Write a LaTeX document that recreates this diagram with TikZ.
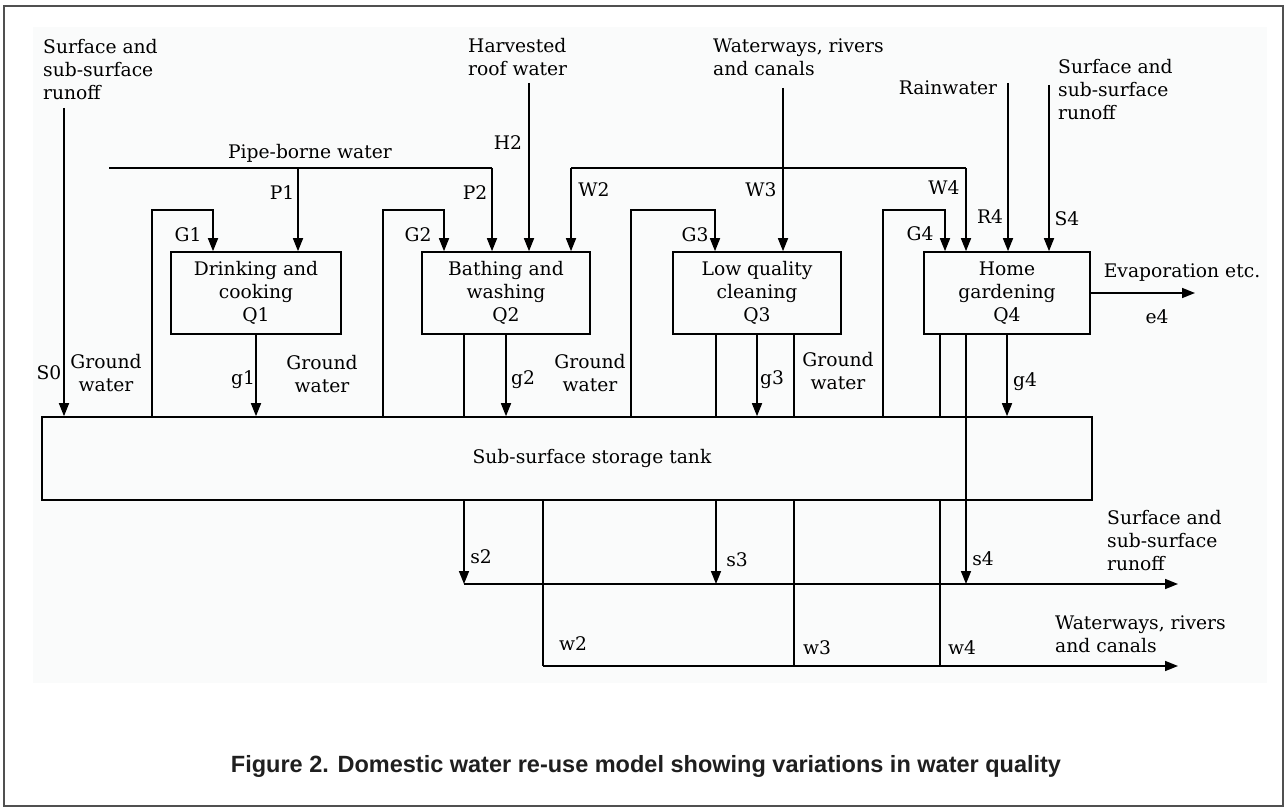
\documentclass[tikz,border=0pt]{standalone}
\usepackage{fontspec}
\setmainfont{DejaVu Serif}
\newfontfamily\capfont{Liberation Sans}
\usetikzlibrary{arrows.meta}
\newcommand{\dlabfont}{\fontsize{18.7}{23}\selectfont}
\definecolor{bgpanel}{RGB}{250,251,251}
\definecolor{framegray}{RGB}{80,80,80}
\begin{document}
\begin{tikzpicture}[x=1pt,y=-1pt,
  ln/.style={line width=1.6pt},
  arr/.style={line width=1.6pt,-{Triangle[width=10pt,length=13pt]}},
  box/.style={draw,line width=1.6pt,inner sep=0pt,align=center,font=\dlabfont},
  lab/.style={inner sep=0pt,font=\dlabfont},
]
\useasboundingbox (0,0) rectangle (1287,810);
\fill[white] (0,0) rectangle (1287,810);
\fill[bgpanel] (33,27) rectangle (1267,683);
\draw[framegray,line width=1.5pt] (4,6) rectangle (1283,806);

% boxes
\node[box,minimum width=170pt,minimum height=82pt] (drink) at (256,293) {Drinking and\\cooking\\Q1};
\node[box,minimum width=168pt,minimum height=82pt] (bath) at (506,293) {Bathing and\\washing\\Q2};
\node[box,minimum width=168pt,minimum height=82pt] (lowq) at (757,293) {Low quality\\cleaning\\Q3};
\node[box,minimum width=166pt,minimum height=82pt] (home) at (1007,293) {Home\\gardening\\Q4};
\node[draw,line width=1.6pt,minimum width=1050pt,minimum height=83pt,inner sep=0pt] (tank) at (567,458.5) {};
\node[lab] (tanktxt) at (592,458) {Sub-surface storage tank};

% top labels
\node[lab,anchor=west,align=left] (runoffTL) at (43,70) {Surface and\\sub-surface\\runoff};
\node[lab] (pipetxt) at (310,153) {Pipe-borne water};
\node[lab,anchor=west,align=left] (harv) at (468,57) {Harvested\\roof water};
\node[lab,anchor=west,align=left] (wwtop) at (713,57) {Waterways, rivers\\and canals};
\node[lab] (rain) at (948,88) {Rainwater};
\node[lab,anchor=west,align=left] (runoffTR) at (1058,90) {Surface and\\sub-surface\\runoff};

% small labels
\node[lab] at (282,193) {P1};
\node[lab] at (475,193) {P2};
\node[lab] at (508,143) {H2};
\node[lab] at (594,190) {W2};
\node[lab] at (761,190) {W3};
\node[lab] at (944,188) {W4};
\node[lab] at (188,235) {G1};
\node[lab] at (418,235) {G2};
\node[lab] at (695,235) {G3};
\node[lab] at (920,234) {G4};
\node[lab] at (990,217) {R4};
\node[lab] at (1067,219) {S4};
\node[lab] at (49,373) {S0};
\node[lab,align=center] at (106,373) {Ground\\water};
\node[lab,align=center] at (322,374) {Ground\\water};
\node[lab,align=center] at (590,373) {Ground\\water};
\node[lab,align=center] at (838,371) {Ground\\water};
\node[lab] at (243,380) {g1};
\node[lab] at (523,380) {g2};
\node[lab] at (772,380) {g3};
\node[lab] at (1025,382) {g4};
\node[lab] at (1182,273) {Evaporation etc.};
\node[lab] at (1157,317) {e4};
\node[lab] at (481,557) {s2};
\node[lab] at (737,560) {s3};
\node[lab] at (983,559) {s4};
\node[lab] at (573,644) {w2};
\node[lab] at (817,648) {w3};
\node[lab] at (962,648) {w4};
\node[lab,anchor=west,align=left] (runoffBR) at (1107,541) {Surface and\\sub-surface\\runoff};
\node[lab,anchor=west,align=left] (wwBR) at (1055,634) {Waterways, rivers\\and canals};

% coordinates
\coordinate (pipeL) at (109,168);
\coordinate (pipeR) at (492,168);
\coordinate (p1) at (298,168);
\coordinate (h2) at (529,83);
\coordinate (w3top) at (783,88);
\coordinate (wL) at (571,168);
\coordinate (wR) at (966,168);
\coordinate (r4top) at (1008,83);
\coordinate (s4top) at (1049,85);
\coordinate (s0top) at (64,108);
\coordinate (g1a) at (152,210); \coordinate (g1b) at (213,210);
\coordinate (g2a) at (383,210); \coordinate (g2b) at (444,210);
\coordinate (g3a) at (631,210); \coordinate (g3b) at (715,210);
\coordinate (g4a) at (883,210); \coordinate (g4b) at (945,210);
\coordinate (s2x) at (464,584);
\coordinate (s3x) at (716,584);
\coordinate (s4x) at (966,584);
\coordinate (sR) at (1178,584);
\coordinate (w2x) at (543,666);
\coordinate (w3x) at (794,666);
\coordinate (w4x) at (940,666);
\coordinate (wwR) at (1178,666);
\coordinate (evap) at (1195,293);

% inflows
\draw[ln] (pipeL) -- (pipeR);
\draw[arr] (pipeR) -- (pipeR |- bath.north);
\draw[arr] (p1) -- (p1 |- drink.north);
\draw[arr] (h2) -- (h2 |- bath.north);
\draw[ln] (wL) -- (wR);
\draw[arr] (wL) -- (wL |- bath.north);
\draw[arr] (wR) -- (wR |- home.north);
\draw[arr] (w3top) -- (w3top |- lowq.north);
\draw[arr] (r4top) -- (r4top |- home.north);
\draw[arr] (s4top) -- (s4top |- home.north);
\draw[arr] (s0top) -- (s0top |- tank.north);
\draw[arr] (g1a |- tank.north) -- (g1a) -- (g1b) -- (g1b |- drink.north);
\draw[arr] (g2a |- tank.north) -- (g2a) -- (g2b) -- (g2b |- bath.north);
\draw[arr] (g3a |- tank.north) -- (g3a) -- (g3b) -- (g3b |- lowq.north);
\draw[arr] (g4a |- tank.north) -- (g4a) -- (g4b) -- (g4b |- home.north);

% outflows to tank
\draw[arr] (drink.south) -- (drink.south |- tank.north);
\draw[arr] (bath.south) -- (bath.south |- tank.north);
\draw[arr] (lowq.south) -- (lowq.south |- tank.north);
\draw[arr] (home.south) -- (home.south |- tank.north);
\draw[arr] (home.east) -- (evap);

% lines through / below tank
\draw[ln] (s2x |- bath.south) -- (s2x |- tank.north);
\draw[arr] (s2x |- tank.south) -- (s2x);
\draw[ln] (s3x |- lowq.south) -- (s3x |- tank.north);
\draw[arr] (s3x |- tank.south) -- (s3x);
\draw[arr] (s4x |- home.south) -- (s4x);
\draw[arr] (s2x) -- (sR);
\draw[ln] (w2x |- tank.south) -- (w2x);
\draw[ln] (w3x |- lowq.south) -- (w3x |- tank.north);
\draw[ln] (w3x |- tank.south) -- (w3x);
\draw[ln] (w4x |- home.south) -- (w4x |- tank.north);
\draw[ln] (w4x |- tank.south) -- (w4x);
\draw[arr] (w2x) -- (wwR);

% caption
\node[inner sep=0pt,font=\capfont\bfseries\fontsize{23.5}{28}\selectfont,text=black!88] (cap) at (646,766) {Figure 2. Domestic water re-use model showing variations in water quality};
\end{tikzpicture}
\end{document}
